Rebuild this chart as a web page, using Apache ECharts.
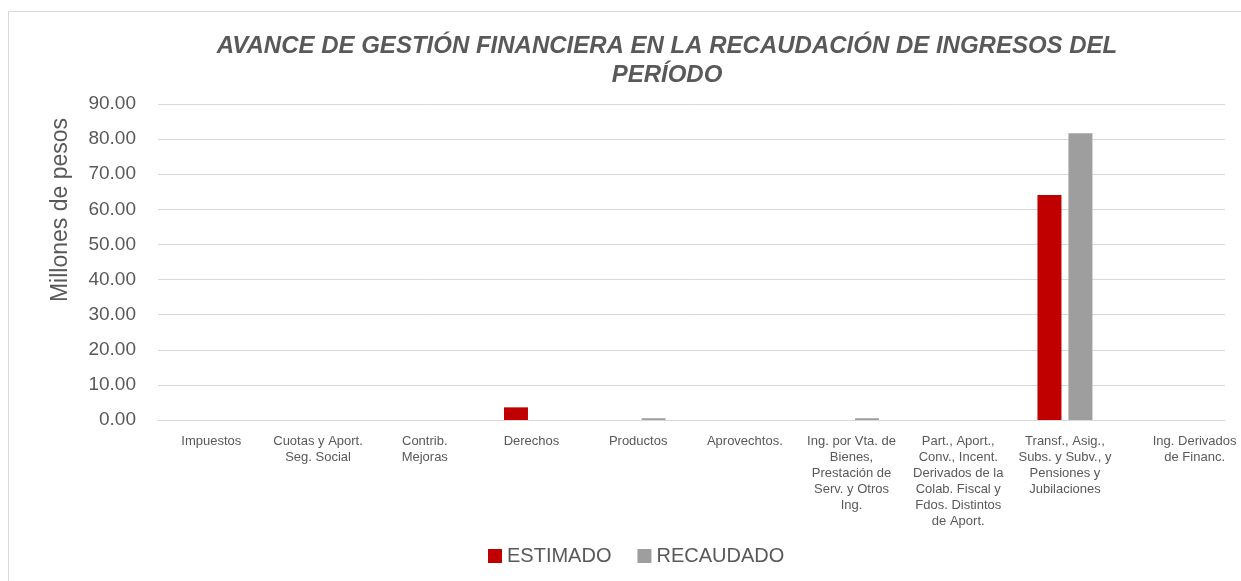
<!DOCTYPE html>
<html>
<head>
<meta charset="utf-8">
<script src="https://cdn.jsdelivr.net/npm/echarts@6/dist/echarts.min.js"></script>
<style>
  html, body { margin: 0; padding: 0; background: #fff; }
  #chart { width: 1241px; height: 581px; }
</style>
</head>
<body>
<div id="chart"></div>
<script>
const categories = [
  'Impuestos',
  'Cuotas y Aport.\nSeg. Social',
  'Contrib.\nMejoras',
  'Derechos',
  'Productos',
  'Aprovechtos.',
  'Ing. por Vta. de\nBienes,\nPrestación de\nServ. y Otros\nIng.',
  'Part., Aport.,\nConv., Incent.\nDerivados de la\nColab. Fiscal y\nFdos. Distintos\nde Aport.',
  'Transf., Asig.,\nSubs. y Subv., y\nPensiones y\nJubilaciones',
  'Ing. Derivados\nde Financ.'
];
const estimado = [0, 0, 0, 3.6, 0, 0, 0, 0, 64.1, 0];
const recaudado = [0, 0, 0, 0, 0.5, 0, 0.5, 0, 81.7, 0];

const textColor = '#595959';
const lineColor = '#d9d9d9';

const chart = echarts.init(document.getElementById('chart'));
chart.setOption({
  animation: false,
  graphic: [{
    type: 'rect',
    shape: { x: 8.5, y: 11.5, width: 1400, height: 800 },
    style: { fill: 'none', stroke: lineColor, lineWidth: 1 },
    silent: true
  }],
  title: {
    text: 'AVANCE DE GESTIÓN FINANCIERA EN LA RECAUDACIÓN DE INGRESOS DEL\nPERÍODO',
    left: 662,
    top: 27,
    textAlign: 'center',
    textStyle: {
      fontFamily: 'Liberation Sans',
      fontSize: 24,
      fontWeight: 'bold',
      fontStyle: 'italic',
      color: textColor,
      lineHeight: 29
    }
  },
  legend: {
    left: 483,
    top: 541,
    itemWidth: 14,
    itemHeight: 14,
    itemGap: 26,
    icon: 'rect',
    textStyle: { fontFamily: 'Liberation Sans', fontSize: 20, color: textColor },
    data: ['ESTIMADO', 'RECAUDADO']
  },
  grid: { left: 158, right: 16, top: 104, bottom: 161 },
  xAxis: {
    type: 'category',
    data: categories,
    axisLine: { lineStyle: { color: lineColor, width: 1 } },
    axisTick: { show: false },
    axisLabel: {
      interval: 0,
      margin: 13,
      fontFamily: 'Liberation Sans',
      fontSize: 13,
      lineHeight: 16,
      color: textColor,
      formatter: function (v, i) {
        return i === categories.length - 1 ? '{last|' + v.replace('\n', '}\n{last|') + '}' : v;
      },
      rich: {
        last: { fontFamily: 'Liberation Sans', fontSize: 13, lineHeight: 16, color: textColor, padding: [0, 0, 0, 46] }
      }
    }
  },
  yAxis: {
    type: 'value',
    min: 0,
    max: 90,
    interval: 10,
    name: 'Millones de pesos',
    nameLocation: 'middle',
    nameGap: 86,
    nameTextStyle: { fontFamily: 'Liberation Sans', fontSize: 23, color: textColor, padding: [0, 0, 0, 104] },
    axisLine: { show: false },
    axisTick: { show: false },
    splitLine: { lineStyle: { color: lineColor, width: 1 } },
    axisLabel: {
      margin: 22,
      fontFamily: 'Liberation Sans',
      fontSize: 19,
      color: textColor,
      formatter: function (v) { return v.toFixed(2); }
    }
  },
  series: [
    {
      name: 'ESTIMADO',
      type: 'bar',
      data: estimado,
      barWidth: 24,
      barGap: '29%',
      itemStyle: { color: '#c00000' }
    },
    {
      name: 'RECAUDADO',
      type: 'bar',
      data: recaudado,
      barWidth: 24,
      itemStyle: { color: '#9e9e9e' }
    }
  ]
});
</script>
</body>
</html>
